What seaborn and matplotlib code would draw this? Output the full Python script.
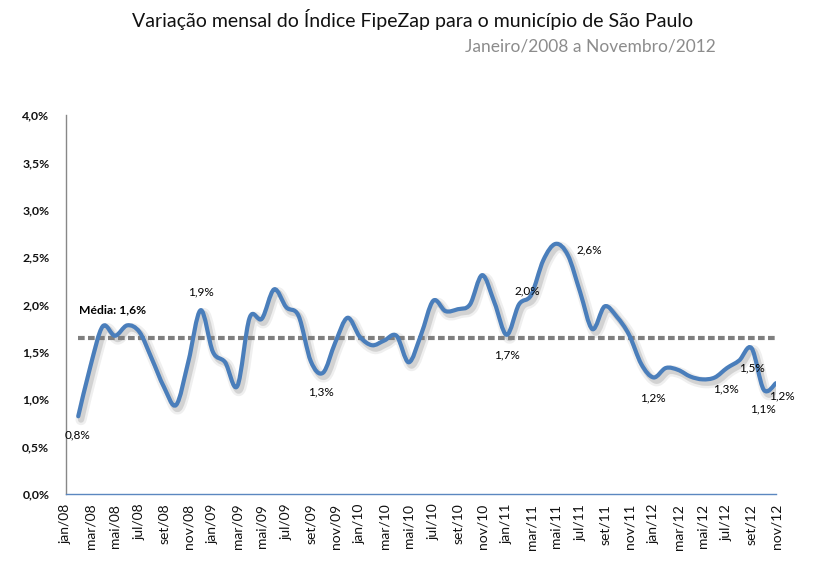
import numpy as np
import pandas as pd
import matplotlib
matplotlib.use("Agg")
import matplotlib.pyplot as plt
import matplotlib.patheffects as pe
from matplotlib.path import Path
from matplotlib.patches import PathPatch
import seaborn as sns

# ---------------- data ----------------
# monthly variation (%), fev/08 .. nov/12 (jan/08 is the base month, no value)
VALORES = [
    0.82, 1.35, 1.77, 1.67, 1.78, 1.71, 1.43, 1.13, 0.94, 1.40, 1.94,   # fev/08 - dez/08
    1.50, 1.39, 1.14, 1.86, 1.85, 2.16, 1.97, 1.88, 1.40, 1.28, 1.60, 1.86,  # 2009
    1.66, 1.57, 1.62, 1.67, 1.39, 1.68, 2.04, 1.93, 1.95, 2.00, 2.31, 2.02,  # 2010
    1.68, 2.00, 2.10, 2.47, 2.64, 2.52, 2.13, 1.74, 1.98, 1.87, 1.68, 1.37,  # 2011
    1.23, 1.33, 1.31, 1.24, 1.21, 1.23, 1.33, 1.41, 1.54, 1.10, 1.17,        # 2012 (jan-nov)
]
MEDIA = 1.65
MEDIA_TEXTO = "Média: 1,6%"

ROTULOS_X = ["jan/08", "mar/08", "mai/08", "jul/08", "set/08", "nov/08",
             "jan/09", "mar/09", "mai/09", "jul/09", "set/09", "nov/09",
             "jan/10", "mar/10", "mai/10", "jul/10", "set/10", "nov/10",
             "jan/11", "mar/11", "mai/11", "jul/11", "set/11", "nov/11",
             "jan/12", "mar/12", "mai/12", "jul/12", "set/12", "nov/12"]
TICKS_Y = [0.0, 0.5, 1.0, 1.5, 2.0, 2.5, 3.0, 3.5, 4.0]
ROTULOS_Y = ["0,0%", "0,5%", "1,0%", "1,5%", "2,0%", "2,5%", "3,0%", "3,5%", "4,0%"]

TITULO = "Variação mensal do Índice FipeZap para o município de São Paulo"
SUBTITULO = "Janeiro/2008 a Novembro/2012"

# which points get a data label (month index, 1 = fev/08) and label offset in pixels
ROTULOS_DADOS = [(1, -1, -19), (11, 0, 18), (21, -2, -19), (36, 0, -20),
                 (37, 8, 14), (40, 34, -6), (48, -1, -20), (54, -1, -21),
                 (56, 0, -20), (57, -1, -19), (58, 6, -13)]

# ---------------- style ----------------
sns.set_style("white")
plt.rcParams["font.family"] = ["Lato", "DejaVu Sans"]

AZUL = "#4A7EBB"
CINZA = "#7F7F7F"

fig = plt.figure(figsize=(8.14, 5.70), dpi=100)
ax = fig.add_axes([66 / 814, 1 - 494 / 570, 710 / 814, 379 / 570])

pos = np.arange(1, len(VALORES) + 1)
df = pd.DataFrame({"mes": pos, "valor": VALORES, "media": [MEDIA] * len(VALORES)})

# mean line (seaborn)
sns.lineplot(data=df, x="mes", y="media", ax=ax, color=CINZA, lw=3.0,
             linestyle=(0, (1.6, 0.8)), zorder=2)

# smoothed data line (Excel-like smoothing: Catmull-Rom Bezier through the points)
P = np.column_stack([df["mes"].to_numpy(float), df["valor"].to_numpy(float)])
verts = [tuple(P[0])]
codes = [Path.MOVETO]
n = len(P)
for k in range(n - 1):
    p0 = P[k - 1] if k > 0 else P[k]
    p1, p2 = P[k], P[k + 1]
    p3 = P[k + 2] if k + 2 < n else P[k + 1]
    c1 = p1 + (p2 - p0) / 6.0
    c2 = p2 - (p3 - p1) / 6.0
    verts += [tuple(c1), tuple(c2), tuple(p2)]
    codes += [Path.CURVE4] * 3
curve = PathPatch(Path(verts, codes), facecolor="none", edgecolor=AZUL, lw=3.0,
                  capstyle="round", joinstyle="round", transform=ax.transData, zorder=3)
curve.set_path_effects([
    pe.SimpleLineShadow(offset=(2.0, -2.4), shadow_color="#7f7f7f", alpha=0.12, linewidth=8),
    pe.SimpleLineShadow(offset=(2.0, -2.4), shadow_color="#7f7f7f", alpha=0.25, linewidth=4.5),
    pe.Normal(),
])
ax.add_patch(curve)

# data labels
for idx, dx, dy in ROTULOS_DADOS:
    v = VALORES[idx - 1]
    txt = f"{v:.1f}".replace(".", ",") + "%"
    ax.annotate(txt, xy=(idx, v), xytext=(dx, dy), textcoords="offset pixels",
                ha="center", va="center", fontsize=8.5, color="black", zorder=5)

ax.annotate(MEDIA_TEXTO, xy=(1, MEDIA), xytext=(1, 28), textcoords="offset pixels",
            ha="left", va="center", fontsize=8.7, fontweight="bold", color="black")

# axes
ax.set_xlim(0, 58)
ax.set_ylim(0, 4)
ax.set_xticks(np.arange(0, 59, 2))
ax.set_xticklabels(ROTULOS_X, rotation=90, fontsize=10, color="#111111")
ax.set_yticks(TICKS_Y)
ax.set_yticklabels(ROTULOS_Y, fontsize=8.8, fontweight="bold", color="#111111")
ax.tick_params(axis="x", length=0, pad=7)
ax.tick_params(axis="y", length=0, pad=12)
ax.set_xlabel("")
ax.set_ylabel("")
ax.grid(False)
for s in ["top", "right"]:
    ax.spines[s].set_visible(False)
ax.spines["left"].set_color("#888888")
ax.spines["left"].set_linewidth(1.0)
ax.spines["bottom"].set_color("#5B87C0")
ax.spines["bottom"].set_linewidth(1.0)

fig.text(413 / 814, 1 - 19 / 570, TITULO, ha="center", va="center", fontsize=14, color="#111111")
fig.text(716 / 814, 1 - 46 / 570, SUBTITULO, ha="right", va="center", fontsize=12.5, color="#8C8C8C")

fig.savefig("out.png", dpi=100, facecolor="white")
